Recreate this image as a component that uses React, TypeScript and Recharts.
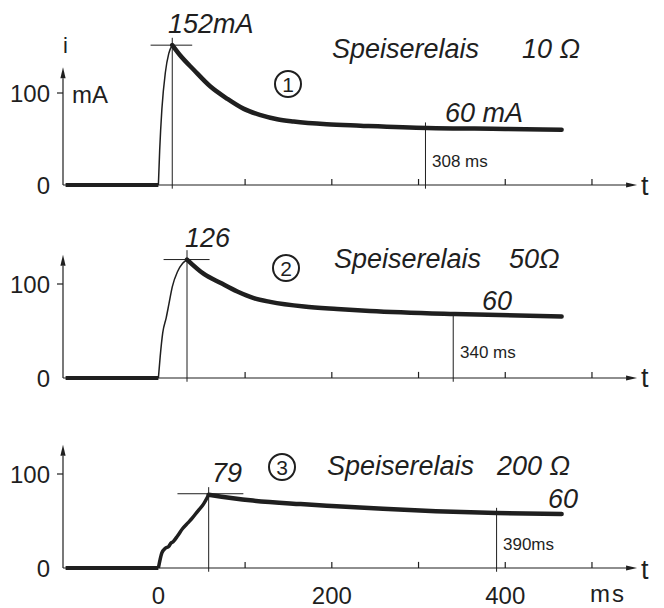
import React from "react";
import { LineChart, Line, XAxis, YAxis, ReferenceLine } from "recharts";

const W = 664;
const H = 608;
const INK = "#1f1f1f";
const FONT = "'Liberation Sans', Arial, sans-serif";

// time axis (ms)
const T_MIN = -110;
const T_MAX = 560;
const AXIS_END = 552;
const BASE_START = -107;
const X_TICKS = [100, 200, 300, 400, 500];
const X_LABELS = [0, 200, 400];
const Y_TICKS = [0, 100];

// one entry per relay
const RESISTANCES = ["10 Ω", "50Ω", "200 Ω"];
const PEAK_TIMES = [16, 33, 58];
const PEAK_VALUES = [152, 126, 79];
const PEAK_LABELS = ["152mA", "126", "79"];
const END_LABELS = ["60 mA", "60", "60"];
const MARK_TIMES = [308, 340, 390];
const MARK_LABELS = ["308 ms", "340 ms", "390ms"];

const RISE1_T = [0, 1.5, 4, 8, 12, 16];
const RISE1_I = [0, 38, 82, 122, 143, 152];
const DECAY1_T = [16, 25, 41, 60, 79, 98, 118, 137, 156, 194, 233, 310, 400, 465];
const DECAY1_I = [152, 141, 125, 107, 94, 83, 76, 71.5, 69, 66, 64.5, 62, 61, 60];

const RISE2_T = [0, 2, 5, 9, 12, 16, 22, 28, 33];
const RISE2_I = [0, 22, 48, 64, 78, 97, 113, 122, 126];
const DECAY2_T = [33, 52, 72, 91, 110, 129, 168, 206, 244, 342, 465];
const DECAY2_I = [126, 111, 101, 92, 85, 81, 76, 73.4, 71.3, 68, 65.5];

const RISE3_T = [0, 4, 8, 12, 14, 17, 22, 28, 34, 39, 45, 52, 58];
const RISE3_I = [0, 16, 21, 23, 26, 28, 34, 42, 48, 53, 60, 68, 78];
const DECAY3_T = [58, 106, 164, 200, 259, 320, 390, 465];
const DECAY3_I = [78, 72, 68, 66, 63, 60.5, 58.5, 57.5];

const RISE_T = [RISE1_T, RISE2_T, RISE3_T];
const RISE_I = [RISE1_I, RISE2_I, RISE3_I];
const DECAY_T = [DECAY1_T, DECAY2_T, DECAY3_T];
const DECAY_I = [DECAY1_I, DECAY2_I, DECAY3_I];

// guide marks drawn on the original
const PEAK_MARK_FROM = [-9, 6, 22];
const PEAK_MARK_TO = [39, 59, 98];
const PEAK_LINE_TOP = [160, 136, 86];
const MARK_LINE_TOP = [68, 69, 64];
const Y_ARROW_TOP = [128, 131, 131];
const TICK_UP = 6.5;

// panel layout (pixel of zero line, px per mA, top of value range)
const ZERO_Y = [185, 378, 568];
const PX_PER_MA = [0.92, 0.94, 0.94];
const Y_MAX = [170, 150, 140];

const pts = (t: number[], v: number[]) => t.map((x, i) => ({ t: x, v: v[i] }));

const ArrowLine = (props: any) => {
  const { x1, y1, x2, y2 } = props;
  const dx = x2 - x1;
  const dy = y2 - y1;
  const len = Math.hypot(dx, dy) || 1;
  const ux = dx / len;
  const uy = dy / len;
  const bx = x2 - ux * 11;
  const by = y2 - uy * 11;
  const w = 2.6;
  return (
    <g>
      <line x1={x1} y1={y1} x2={bx} y2={by} stroke={INK} strokeWidth={1.2} />
      <polygon
        points={`${x2},${y2} ${bx - uy * w},${by + ux * w} ${bx + uy * w},${by - ux * w}`}
        fill={INK}
      />
    </g>
  );
};

const YTick = (props: any) => {
  const { x, y, payload } = props;
  return (
    <g>
      {payload.value !== 0 && (
        <line x1={x + 7} y1={y} x2={x + 13} y2={y} stroke={INK} strokeWidth={1.2} />
      )}
      <text x={x} y={y} dy={9} textAnchor="end" fontSize={24} fill={INK} fontFamily={FONT}>
        {payload.value}
      </text>
    </g>
  );
};

const XTick = (props: any) => {
  const { x, y, payload } = props;
  return (
    <text x={x} y={y + 34} textAnchor="middle" fontSize={24} fill={INK} fontFamily={FONT}>
      {payload.value}
    </text>
  );
};

function Panel({ i }: { i: number }) {
  const showX = i === 2;
  const top = ZERO_Y[i] - Y_MAX[i] * PX_PER_MA[i];
  const bottom = H - ZERO_Y[i] - (showX ? 30 : 0);
  return (
    <div style={{ position: "absolute", left: 0, top: 0 }}>
      <LineChart width={W} height={H} margin={{ top, right: 20, bottom, left: 18 }}>
        <XAxis
          type="number"
          dataKey="t"
          domain={[T_MIN, T_MAX]}
          hide={!showX}
          ticks={X_LABELS}
          axisLine={false}
          tickLine={false}
          tickSize={0}
          tick={<XTick />}
          height={30}
        />
        <YAxis
          type="number"
          domain={[0, Y_MAX[i]]}
          ticks={Y_TICKS}
          width={45}
          axisLine={false}
          tickLine={false}
          tickSize={0}
          tickMargin={13}
          tick={<YTick />}
        />
        <ReferenceLine
          segment={[{ x: T_MIN, y: 0 }, { x: AXIS_END, y: 0 }]}
          ifOverflow="visible"
          shape={ArrowLine}
        />
        <ReferenceLine
          segment={[{ x: T_MIN, y: 0 }, { x: T_MIN, y: Y_ARROW_TOP[i] }]}
          ifOverflow="visible"
          shape={ArrowLine}
        />
        {X_TICKS.map((t) => (
          <ReferenceLine
            key={t}
            segment={[{ x: t, y: 0 }, { x: t, y: TICK_UP }]}
            ifOverflow="visible"
            stroke={INK}
            strokeWidth={1.2}
          />
        ))}
        <ReferenceLine
          segment={[{ x: PEAK_TIMES[i], y: -4 }, { x: PEAK_TIMES[i], y: PEAK_LINE_TOP[i] }]}
          ifOverflow="visible"
          stroke={INK}
          strokeWidth={1}
        />
        <ReferenceLine
          segment={[{ x: PEAK_MARK_FROM[i], y: PEAK_VALUES[i] }, { x: PEAK_MARK_TO[i], y: PEAK_VALUES[i] }]}
          ifOverflow="visible"
          stroke={INK}
          strokeWidth={1}
        />
        <ReferenceLine
          segment={[{ x: MARK_TIMES[i], y: -4 }, { x: MARK_TIMES[i], y: MARK_LINE_TOP[i] }]}
          ifOverflow="visible"
          stroke={INK}
          strokeWidth={1}
        />
        <Line
          data={pts([BASE_START, 0], [0, 0])}
          dataKey="v"
          type="linear"
          stroke={INK}
          strokeWidth={4}
          dot={false}
          activeDot={false}
          isAnimationActive={false}
        />
        <Line
          data={pts(RISE_T[i], RISE_I[i])}
          dataKey="v"
          type="monotone"
          stroke={INK}
          strokeWidth={i === 2 ? 3.5 : 1.5}
          dot={false}
          activeDot={false}
          isAnimationActive={false}
        />
        <Line
          data={pts(DECAY_T[i], DECAY_I[i])}
          dataKey="v"
          type="monotone"
          stroke={INK}
          strokeWidth={4.5}
          strokeLinecap="round"
          dot={false}
          activeDot={false}
          isAnimationActive={false}
        />
      </LineChart>
    </div>
  );
}

const it = { fontFamily: FONT, fontStyle: "italic" as const, fontSize: 27, fill: INK };
const up = { fontFamily: FONT, fontSize: 24, fill: INK };

function Labels() {
  const circles = [
    [288, 84],
    [286, 268],
    [282, 467],
  ];
  return (
    <svg width={W} height={H} style={{ position: "absolute", left: 0, top: 0 }}>
      <text x={63} y={53} {...up} fontSize={22}>i</text>
      <text x={72} y={103} {...up}>mA</text>

      <text x={168} y={33} {...it}>{PEAK_LABELS[0]}</text>
      <text x={332} y={58} {...it}>Speiserelais</text>
      <text x={522} y={58} {...it}>{RESISTANCES[0]}</text>
      <text x={445} y={122} {...it}>{END_LABELS[0]}</text>
      <text x={432} y={167} {...up} fontSize={17}>{MARK_LABELS[0]}</text>
      <text x={641} y={195} {...up} fontSize={27}>t</text>

      <text x={185} y={247} {...it}>{PEAK_LABELS[1]}</text>
      <text x={334} y={268} {...it}>Speiserelais</text>
      <text x={509} y={268} {...it}>{RESISTANCES[1]}</text>
      <text x={482} y={310} {...it}>{END_LABELS[1]}</text>
      <text x={460} y={358} {...up} fontSize={17}>{MARK_LABELS[1]}</text>
      <text x={641} y={387} {...up} fontSize={27}>t</text>

      <text x={212} y={482} {...it}>{PEAK_LABELS[2]}</text>
      <text x={327} y={475} {...it}>Speiserelais</text>
      <text x={497} y={475} {...it}>{RESISTANCES[2]}</text>
      <text x={548} y={508} {...it}>{END_LABELS[2]}</text>
      <text x={503} y={550} {...up} fontSize={17}>{MARK_LABELS[2]}</text>
      <text x={641} y={579} {...up} fontSize={27}>t</text>
      <text x={590} y={602} {...up} letterSpacing={2}>ms</text>

      {circles.map(([cx, cy], k) => (
        <g key={k}>
          <circle cx={cx} cy={cy} r={13} fill="none" stroke={INK} strokeWidth={2} />
          <text x={cx} y={cy + 8} textAnchor="middle" {...up} fontSize={21}>
            {k + 1}
          </text>
        </g>
      ))}
    </svg>
  );
}

export default function App() {
  return (
    <div style={{ position: "absolute", left: 0, top: 0, width: W, height: H, background: "#fff" }}>
      {[0, 1, 2].map((i) => (
        <Panel key={i} i={i} />
      ))}
      <Labels />
    </div>
  );
}
